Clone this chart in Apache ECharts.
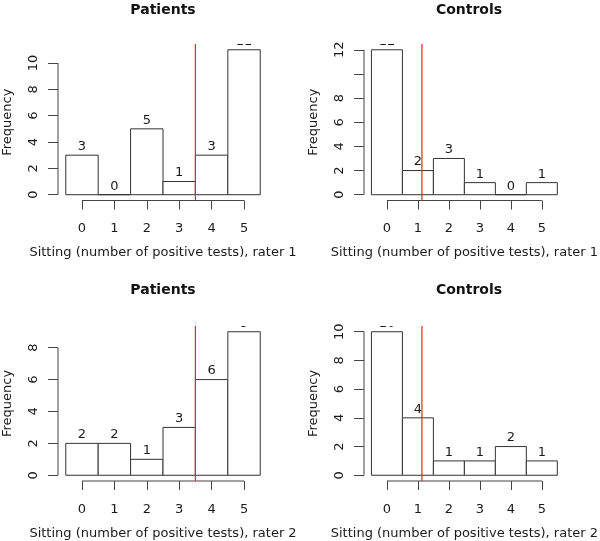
<!DOCTYPE html>
<html>
<head>
<meta charset="utf-8">
<script src="https://cdn.jsdelivr.net/npm/echarts@6/dist/echarts.min.js"></script>
<style>
  html, body { margin: 0; background: #fff; }
  #chart { width: 600px; height: 541px; }
</style>
</head>
<body>
<div id="chart"></div>
<script>
  // number of positive tests (histogram bins)
  const scores = [0, 1, 2, 3, 4, 5];

  // frequencies
  const patientsRater1 = [3, 0, 5, 1, 3, 11];
  const controlsRater1 = [12, 2, 3, 1, 0, 1];
  const patientsRater2 = [2, 2, 1, 3, 6, 9];
  const controlsRater2 = [10, 4, 1, 1, 2, 1];

  // y ticks, and the ones that get a label (R drops "10" on controls rater 1)
  const yTicksP1 = [0, 2, 4, 6, 8, 10];
  const yTicksC1 = [0, 2, 4, 6, 8, 10, 12];
  const yLabelsC1 = [0, 2, 4, 6, 8, 12];
  const yTicksP2 = [0, 2, 4, 6, 8];
  const yTicksC2 = [0, 2, 4, 6, 8, 10];

  // red cut-off lines
  const cutPatients = 3.5;
  const cutControls = 1.13;

  const titles = ['Patients', 'Controls', 'Patients', 'Controls'];
  const xNames = [
    'Sitting (number of positive tests), rater 1',
    'Sitting (number of positive tests), rater 1',
    'Sitting (number of positive tests), rater 2',
    'Sitting (number of positive tests), rater 2'
  ];

  const panels = [
    {counts: patientsRater1, yTicks: yTicksP1, yLabels: yTicksP1, cut: cutPatients},
    {counts: controlsRater1, yTicks: yTicksC1, yLabels: yLabelsC1, cut: cutControls},
    {counts: patientsRater2, yTicks: yTicksP2, yLabels: yTicksP2, cut: cutPatients},
    {counts: controlsRater2, yTicks: yTicksC2, yLabels: yTicksC2, cut: cutControls}
  ];

  const FONT = 'DejaVu Sans';
  const AXIS_COLOR = '#444';
  const TEXT_COLOR = '#1a1a1a';

  const grids = [
    {left: 58, top: 44, width: 210, height: 156.5},
    {left: 364, top: 44, width: 210, height: 156.5},
    {left: 58, top: 326, width: 210, height: 156.5},
    {left: 364, top: 326, width: 210, height: 156.5}
  ];

  // R extends the data range by 4% on each side
  const xMin = scores[0] - 0.5 - 0.04 * scores.length;
  const xMax = scores[scores.length - 1] + 0.5 + 0.04 * scores.length;

  let xAxes = [], yAxes = [], series = [], titleList = [];

  panels.forEach((p, i) => {
    const top = Math.max(...p.counts);
    const yMin = -0.04 * top;
    const yMax = 1.04 * top;

    titleList.push({
      text: titles[i],
      left: grids[i].left + grids[i].width / 2,
      top: i < 2 ? 3 : 283,
      textAlign: 'center',
      padding: 0,
      textStyle: {fontFamily: FONT, fontSize: 14, fontWeight: 'bold', color: '#111'}
    });

    xAxes.push({
      type: 'value', gridIndex: i, min: xMin, max: xMax,
      axisLine: {show: false, onZero: false},
      splitLine: {show: false},
      axisTick: {show: true, customValues: scores, length: 9, lineStyle: {color: AXIS_COLOR}},
      axisLabel: {customValues: scores, margin: 22, fontFamily: FONT, fontSize: 13, color: TEXT_COLOR},
      name: xNames[i], nameLocation: 'middle', nameGap: 46,
      nameTextStyle: {fontFamily: FONT, fontSize: 13, color: TEXT_COLOR}
    });

    yAxes.push({
      type: 'value', gridIndex: i, min: yMin, max: yMax,
      axisLine: {show: false, onZero: false},
      splitLine: {show: false},
      axisTick: {show: true, customValues: p.yTicks, length: 10, lineStyle: {color: AXIS_COLOR}},
      axisLabel: {customValues: p.yLabels, rotate: 90, margin: 18, fontFamily: FONT, fontSize: 13, color: TEXT_COLOR},
      name: 'Frequency', nameLocation: 'middle', nameGap: 44,
      nameTextStyle: {fontFamily: FONT, fontSize: 13, color: TEXT_COLOR}
    });

    // histogram bars with count labels, clipped to the plot region like R
    series.push({
      type: 'custom', xAxisIndex: i, yAxisIndex: i, clip: true, silent: true,
      data: scores.map((s, k) => [s, p.counts[k]]),
      renderItem: (params, api) => {
        const x = api.value(0), n = api.value(1);
        const a = api.coord([x - 0.5, n]);
        const b = api.coord([x + 0.5, 0]);
        return {
          type: 'group',
          children: [
            {type: 'rect', shape: {x: a[0], y: a[1], width: b[0] - a[0], height: b[1] - a[1]},
              style: {fill: '#fff', stroke: '#333', lineWidth: 1}},
            {type: 'text', x: (a[0] + b[0]) / 2, y: a[1] - 2,
              style: {text: String(n), align: 'center', verticalAlign: 'bottom',
                font: '13px "' + FONT + '"', fill: TEXT_COLOR}}
          ]
        };
      }
    });

    // R style axis lines: only from first to last tick
    const lineBase = {type: 'line', xAxisIndex: i, yAxisIndex: i, symbol: 'none', silent: true, clip: false};
    series.push(Object.assign({}, lineBase, {
      data: [[scores[0], yMin], [scores[scores.length - 1], yMin]],
      lineStyle: {color: AXIS_COLOR, width: 1}
    }));
    series.push(Object.assign({}, lineBase, {
      data: [[xMin, p.yTicks[0]], [xMin, p.yTicks[p.yTicks.length - 1]]],
      lineStyle: {color: AXIS_COLOR, width: 1}
    }));

    // cut-off
    series.push(Object.assign({}, lineBase, {
      data: [[p.cut, yMin], [p.cut, yMax]],
      lineStyle: {color: '#ee2222', width: 1.2}
    }));
  });

  let chart = echarts.init(document.getElementById('chart'));
  chart.setOption({
    animation: false,
    backgroundColor: '#fff',
    title: titleList,
    grid: grids,
    xAxis: xAxes,
    yAxis: yAxes,
    series: series
  });
</script>
</body>
</html>
